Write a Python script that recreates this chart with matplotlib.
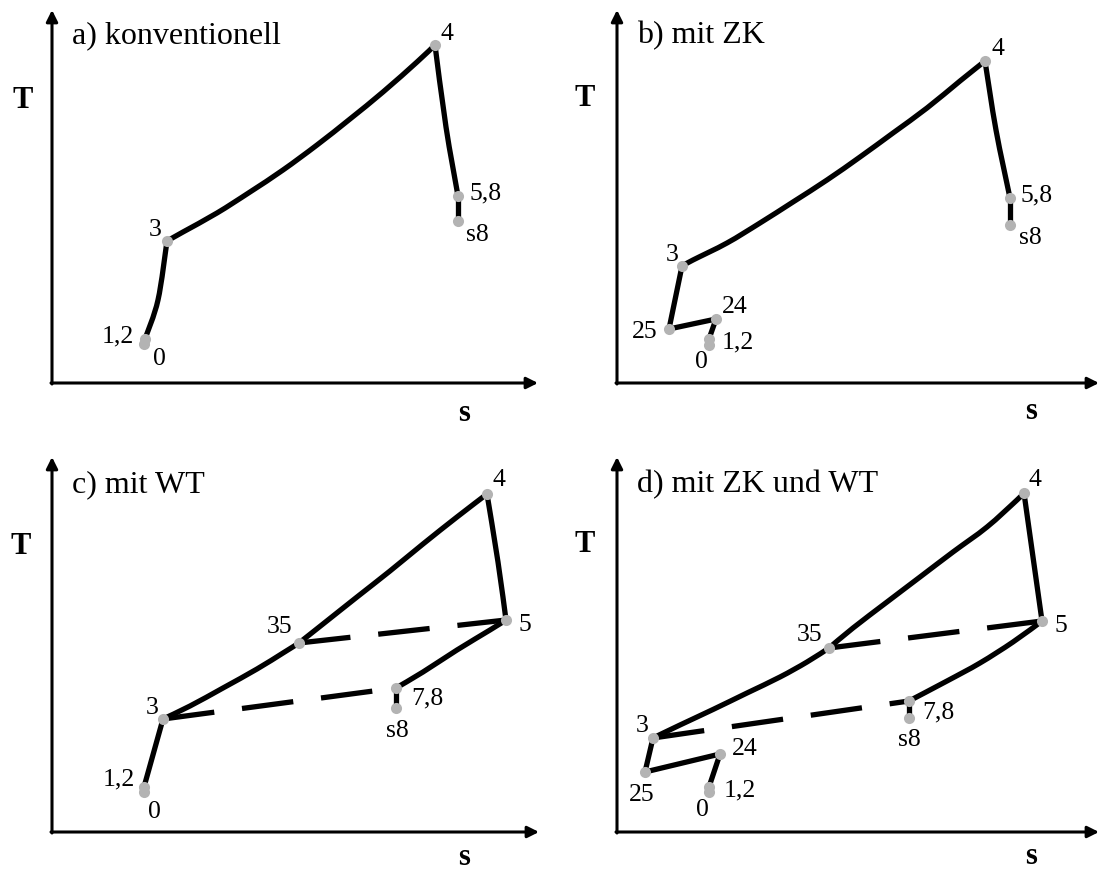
import numpy as np
import matplotlib.pyplot as plt
from matplotlib.path import Path
from matplotlib.patches import PathPatch

plt.rcParams['font.family'] = ['Liberation Serif', 'DejaVu Serif']

W, H = 1099, 871

# panel titles
titles = ["a) konventionell", "b) mit ZK", "c) mit WT", "d) mit ZK und WT"]

# state points (s, T), arbitrary units
a_pts = {"0": (92, 39), "1,2": (93, 44), "3": (115, 142), "4": (383, 338),
         "5,8": (406, 187), "s8": (406, 162)}
b_pts = {"0": (92, 38), "1,2": (92, 44), "24": (99, 64), "25": (52, 54),
         "3": (65, 117), "4": (368, 322), "5,8": (393, 185), "s8": (393, 158)}
c_pts = {"0": (92, 40), "1,2": (92, 45), "3": (111, 113), "35": (247, 189),
         "4": (435, 338), "5": (454, 212), "7,8": (344, 144), "s8": (344, 124)}
d_pts = {"0": (92, 40), "1,2": (92, 45), "24": (103, 78), "25": (28, 60),
         "3": (36, 94), "35": (212, 184), "4": (407, 339), "5": (425, 211),
         "7,8": (292, 131), "s8": (292, 114)}

# solid process lines (s list, T list), each one drawn as a smooth stroke
a_solid = [
    ([93, 106, 115], [44, 83, 142]),
    ([115, 131, 165, 198, 231, 265, 298, 331, 365, 383],
     [142, 151, 170, 191, 213, 238, 264, 291, 321, 338]),
    ([383, 394, 406], [338, 256, 187]),
    ([406, 406], [187, 162]),
]
b_solid = [
    ([92, 99], [44, 64]),
    ([99, 52], [64, 54]),
    ([52, 65], [54, 117]),
    ([65, 76, 110, 143, 176, 210, 243, 276, 310, 343, 368],
     [117, 123, 140, 160, 181, 203, 226, 250, 275, 302, 322]),
    ([368, 379, 393], [322, 253, 185]),
    ([393, 393], [185, 158]),
]
c_solid = [
    ([92, 111], [45, 113]),
    ([111, 138, 171, 205, 231, 247], [113, 126, 144, 163, 179, 189]),
    ([247, 271, 305, 338, 371, 405, 435], [189, 208, 235, 261, 288, 315, 338]),
    ([435, 446, 454], [338, 270, 212]),
    ([454, 438, 405, 371, 344], [212, 202, 182, 160, 144]),
    ([344, 344], [144, 124]),
]
d_solid = [
    ([92, 103], [45, 78]),
    ([103, 28], [78, 60]),
    ([28, 36], [60, 94]),
    ([36, 63, 96, 130, 163, 190, 212], [94, 107, 122.5, 139, 155, 170, 184]),
    ([212, 236, 270, 303, 336, 370, 400, 407], [184, 204, 230, 255, 280, 305, 332, 339]),
    ([407, 425], [339, 211]),
    ([425, 396, 363, 330, 292], [211, 190, 169, 151, 131]),
    ([292, 292], [131, 114]),
]
# dashed heat exchanger lines
c_dashed = [([111, 344], [113, 144]), ([247, 454], [189, 212])]
d_dashed = [([36, 292], [94, 131]), ([212, 425], [184, 211])]

# label offsets in pixels
a_off = {"0": (15, -15), "1,2": (-27, 3), "3": (-12, 11), "4": (12, 11),
         "5,8": (28, 3), "s8": (19, -14)}
b_off = {"0": (-8, -17), "1,2": (29, -3), "24": (19, 12), "25": (-24, -3),
         "3": (-10, 11), "4": (13, 12), "5,8": (27, 3), "s8": (20, -13)}
c_off = {"0": (10, -20), "1,2": (-25, 8), "3": (-11, 11), "35": (-19, 16),
         "4": (12, 14), "5": (19, -5), "7,8": (31, -10), "s8": (1, -23)}
d_off = {"0": (-7, -18), "1,2": (31, -3), "24": (25, 5), "25": (-3, -23),
         "3": (-11, 12), "35": (-19, 13), "4": (11, 13), "5": (19, -5),
         "7,8": (29, -11), "s8": (0, -22)}

# axis frame of each panel in figure pixels: origin x, origin y, arrow tip x, arrow top y
frames = [(52, 383, 538, 10), (617, 383, 1099, 10),
          (52, 832, 539, 457), (617, 832, 1099, 457)]
# positions of the axis letters T (centre) and s (baseline) relative to the origin
t_pos = [(-29, 283), (-32, 285), (-31, 285), (-32, 287)]
s_pos = [(412, -38), (414, -36), (412, -33), (414, -32)]

panels = [(a_pts, a_solid, [], a_off), (b_pts, b_solid, [], b_off),
          (c_pts, c_solid, c_dashed, c_off), (d_pts, d_solid, d_dashed, d_off)]


def stroke(s, T):
    # smooth Bezier stroke through the read points (Catmull-Rom tangents)
    p = np.column_stack([s, T]).astype(float)
    if len(p) < 3:
        return Path(p)
    e = np.vstack([p[0], p, p[-1]])
    verts, codes = [p[0]], [Path.MOVETO]
    for i in range(len(p) - 1):
        c1 = e[i + 1] + (e[i + 2] - e[i]) / 6
        c2 = e[i + 2] - (e[i + 3] - e[i + 1]) / 6
        verts += [c1, c2, e[i + 2]]
        codes += [Path.CURVE4] * 3
    return Path(verts, codes)


fig = plt.figure(figsize=(W / 100, H / 100), dpi=100)

for i, ((x0, y0, xt, yt), title, (pts, solid, dashed, off)) in enumerate(
        zip(frames, titles, panels)):
    w, h = xt - x0, y0 - yt
    ax = fig.add_axes([x0 / W, 1 - y0 / H, w / W, h / H])
    ax.set_xlim(0, w)
    ax.set_ylim(0, h)
    ax.axis("off")

    arrow = dict(arrowstyle="-|>", lw=2.2, color="black", mutation_scale=17,
                 shrinkA=0, shrinkB=0)
    ax.annotate("", xy=(w, 0), xytext=(-1, 0), arrowprops=arrow, annotation_clip=False)
    ax.annotate("", xy=(0, h), xytext=(0, -1), arrowprops=arrow, annotation_clip=False)

    ax.text(*t_pos[i], "T", fontsize=22, fontweight="bold", ha="center",
            va="center", clip_on=False)
    ax.text(*s_pos[i], "s", fontsize=22, fontweight="bold", ha="center",
            va="baseline", clip_on=False)
    ax.text(20, 340, title, fontsize=23, ha="left", va="baseline")

    for s, T in solid:
        ax.add_patch(PathPatch(stroke(s, T), fill=False, edgecolor="black", lw=3.8,
                               capstyle="round", joinstyle="round", zorder=2,
                               clip_on=False))
    for s, T in dashed:
        ax.plot(s, T, color="black", lw=3.8, linestyle=(0, (9.8, 5.3)), zorder=2,
                clip_on=False)

    for name, (s, T) in pts.items():
        ax.plot(s, T, "o", color="#b3b3b3", markersize=8, markeredgewidth=0,
                zorder=3, clip_on=False)
        dx, dy = off[name]
        ax.text(s + dx, T + dy, name, fontsize=18.5, ha="center", va="center",
                zorder=4, clip_on=False)

fig.savefig("out.png", dpi=100)
